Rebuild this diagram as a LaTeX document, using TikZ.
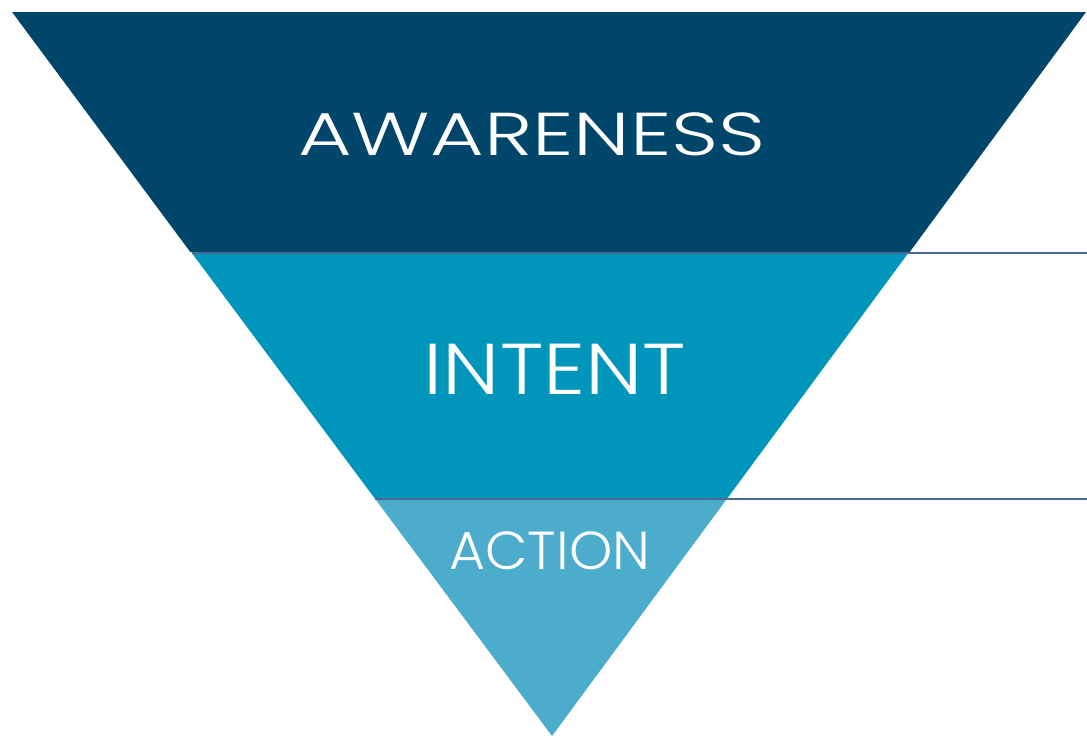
\documentclass[tikz,border=0pt]{standalone}
\usepackage{fontspec}
\newfontfamily\funnelfont{Poppins Light}
\definecolor{awareC}{RGB}{0,70,107}
\definecolor{intentC}{RGB}{0,150,188}
\definecolor{actionC}{RGB}{75,172,204}
\definecolor{lineC}{RGB}{74,106,145}
\tikzset{
  label/.style={text=white, inner sep=0pt, anchor=base, font=\funnelfont},
  divider/.style={draw=lineC, line width=2pt}
}
\begin{document}
\begin{tikzpicture}[x=1pt,y=-1pt]
\useasboundingbox (0,0) rectangle (1087,736);
% bands
\fill[awareC] (12,12) -- (1086,12) -- (909.7,252) -- (190.3,252) -- cycle;
\fill[intentC] (191.8,253) -- (908.3,253) -- (726.8,499) -- (375.2,499) -- cycle;
\fill[actionC] (375.2,499) -- (726.8,499) -- (552,736) -- cycle;
% divider lines
\coordinate (d1a) at (191.8,253);
\coordinate (d1b) at (1087,253);
\coordinate (d2a) at (375.2,499);
\coordinate (d2b) at (1087,499);
\draw[divider] (d1a) -- (d1b);
\draw[divider] (d2a) -- (d2b);
% labels
\node[label, font=\funnelfont\fontsize{60.5}{70}\selectfont] (aware) at (532,155) {\scalebox{1.36}[1]{AWARENESS}};
\node[label, font=\funnelfont\fontsize{72}{80}\selectfont] (intent) at (555,394) {\scalebox{1.16}[1]{INTENT}};
\node[label, font=\funnelfont\fontsize{53.5}{64}\selectfont] (action) at (550,569) {\scalebox{1.03}[1]{ACTION}};
\end{tikzpicture}
\end{document}
